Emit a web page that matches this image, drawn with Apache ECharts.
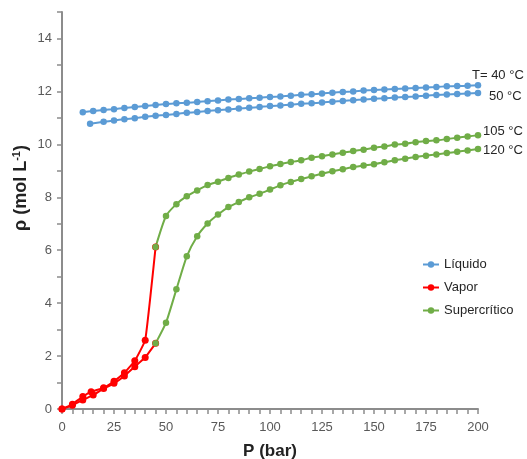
<!DOCTYPE html>
<html>
<head>
<meta charset="utf-8">
<script src="https://cdn.jsdelivr.net/npm/echarts@6/dist/echarts.min.js"></script>
<style>
html,body{margin:0;padding:0;background:#fff;}
#chart{width:527px;height:459px;}
</style>
</head>
<body>
<div id="chart"></div>
<script>
// ---- data ----
const liq40P = [10,15,20,25,30,35,40,45,50,55,60,65,70,75,80,85,90,95,100,105,110,115,120,125,130,135,140,145,150,155,160,165,170,175,180,185,190,195,200];
const liq40Rho = [11.21,11.26,11.30,11.33,11.37,11.41,11.45,11.49,11.52,11.55,11.57,11.60,11.63,11.66,11.69,11.71,11.74,11.76,11.79,11.81,11.84,11.87,11.89,11.92,11.95,11.98,12.00,12.03,12.05,12.07,12.09,12.11,12.13,12.15,12.17,12.19,12.20,12.21,12.23];
const liq50P = [13.5,20,25,30,35,40,45,50,55,60,65,70,75,80,85,90,95,100,105,110,115,120,125,130,135,140,145,150,155,160,165,170,175,180,185,190,195,200];
const liq50Rho = [10.78,10.85,10.90,10.95,10.99,11.04,11.08,11.11,11.15,11.19,11.22,11.26,11.29,11.32,11.35,11.38,11.41,11.45,11.47,11.50,11.53,11.55,11.58,11.61,11.64,11.67,11.69,11.72,11.74,11.77,11.79,11.81,11.84,11.86,11.88,11.90,11.92,11.94];
const vap105P = [0,5,10,14,20,25,30,35,40,45];
const vap105Rho = [0,0.18,0.47,0.65,0.80,1.05,1.37,1.82,2.60,6.12];
const vap120P = [0,5,10,15,20,25,30,35,40,45];
const vap120Rho = [0,0.14,0.34,0.53,0.77,0.97,1.25,1.60,1.95,2.48];
const supP = [45,50,55,60,65,70,75,80,85,90,95,100,105,110,115,120,125,130,135,140,145,150,155,160,165,170,175,180,185,190,195,200];
const sup105Rho = [6.12,7.29,7.74,8.04,8.26,8.46,8.59,8.73,8.86,8.97,9.07,9.17,9.26,9.33,9.40,9.49,9.55,9.62,9.68,9.75,9.80,9.87,9.92,9.99,10.02,10.08,10.13,10.15,10.20,10.25,10.30,10.34];
const sup120Rho = [2.48,3.26,4.52,5.77,6.53,7.01,7.35,7.63,7.82,8.00,8.13,8.29,8.45,8.58,8.69,8.79,8.89,8.98,9.06,9.14,9.20,9.25,9.32,9.40,9.46,9.52,9.57,9.62,9.67,9.72,9.77,9.82];
const legendNames = ['Líquido','Vapor','Supercrítico'];
const endLabels = ['T= 40 °C','50 °C','105 °C','120 °C'];
const xTitle = 'P (bar)';

const zip = (xs, ys) => xs.map((x, i) => [x, ys[i]]);
const FONT = "'Liberation Sans',Arial,sans-serif";
const BLUE = '#5b9bd5', RED = '#ff0000', GREEN = '#70ad47';

function mk(name, color, data, extra) {
  return Object.assign({
    name: name, type: 'line', data: data,
    symbol: 'circle', symbolSize: 6.5, smooth: 0.2,
    itemStyle: { color: color }, lineStyle: { color: color, width: 2 },
    emphasis: { disabled: true }, animation: false
  }, extra || {});
}
function endLab(text, offset) {
  return { endLabel: { show: true, formatter: text, color: '#262626', fontFamily: FONT, fontSize: 13, distance: 5, offset: offset } };
}

const chart = echarts.init(document.getElementById('chart'), null, { renderer: 'canvas' });
chart.setOption({
  animation: false,
  grid: { left: 62, right: 49, top: 12, bottom: 50, outerBoundsMode: 'none', containLabel: false },
  legend: {
    data: legendNames, orient: 'vertical', left: 417, top: 253,
    itemWidth: 16, itemHeight: 8, itemGap: 10,
    textStyle: { fontFamily: FONT, fontSize: 13, color: '#262626' }
  },
  xAxis: {
    type: 'value', min: 0, max: 200, interval: 5,
    name: xTitle, nameLocation: 'middle', nameGap: 34,
    nameTextStyle: { fontFamily: FONT, fontSize: 17, fontWeight: 'bold', color: '#222' },
    axisLine: { lineStyle: { color: '#8c8c8c', width: 2 } },
    axisTick: { show: true, length: 5, lineStyle: { color: '#8c8c8c', width: 1.5 } },
    axisLabel: { fontFamily: FONT, fontSize: 13, color: '#595959', margin: 12,
      formatter: v => (v % 25 === 0 ? String(v) : '') },
    splitLine: { show: false }
  },
  yAxis: {
    type: 'value', min: 0, max: 15, interval: 1,
    axisLine: { show: true, lineStyle: { color: '#8c8c8c', width: 2 } },
    axisTick: { show: true, length: 5, lineStyle: { color: '#8c8c8c', width: 1.5 } },
    axisLabel: { fontFamily: FONT, fontSize: 13, color: '#595959', margin: 10,
      formatter: v => (v % 2 === 0 ? String(v) : '') },
    splitLine: { show: false }
  },
  graphic: [{
    type: 'text', x: 21, y: 188, rotation: Math.PI / 2,
    style: {
      text: '{a|ρ (mol L}{s|-1}{a|)}', align: 'center', verticalAlign: 'middle',
      rich: {
        a: { fontFamily: FONT, fontSize: 18, fontWeight: 'bold', fill: '#222', lineHeight: 20 },
        s: { fontFamily: FONT, fontSize: 11, fontWeight: 'bold', fill: '#222', verticalAlign: 'top', lineHeight: 20 }
      }
    }
  }],
  series: [
    mk('Líquido', BLUE, zip(liq40P, liq40Rho), endLab(endLabels[0], [-11, -10])),
    mk('Líquido', BLUE, zip(liq50P, liq50Rho), endLab(endLabels[1], [6, 3])),
    mk('Vapor', RED, zip(vap105P, vap105Rho), { symbolSize: 7, smooth: 0.1 }),
    mk('Vapor', RED, zip(vap120P, vap120Rho), { symbolSize: 7, smooth: 0.1 }),
    mk('Supercrítico', GREEN, zip(supP, sup105Rho), endLab(endLabels[2], [0, -4])),
    mk('Supercrítico', GREEN, zip(supP, sup120Rho), endLab(endLabels[3], [0, 1]))
  ]
});
</script>
</body>
</html>
